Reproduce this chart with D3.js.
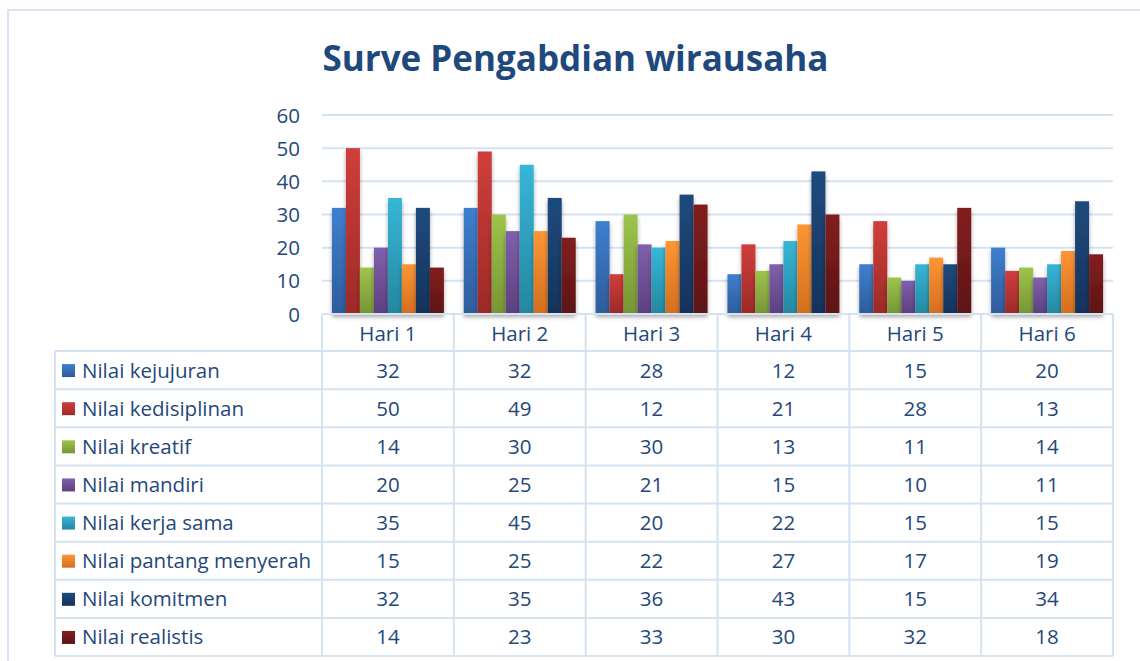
<!DOCTYPE html>
<html><head><meta charset="utf-8">
<script src="https://cdn.jsdelivr.net/npm/d3@7"></script>
<style>body{margin:0;background:#fff}svg{display:block}</style>
</head><body>
<svg id="c" width="1140" height="661"></svg>
<script>
const title = "Surve Pengabdian wirausaha";
const categories = ["Hari 1","Hari 2","Hari 3","Hari 4","Hari 5","Hari 6"];
const seriesNames = ["Nilai kejujuran","Nilai kedisiplinan","Nilai kreatif","Nilai mandiri","Nilai kerja sama","Nilai pantang menyerah","Nilai komitmen","Nilai realistis"];
const kejujuran = [32,32,28,12,15,20];
const kedisiplinan = [50,49,12,21,28,13];
const kreatif = [14,30,30,13,11,14];
const mandiri = [20,25,21,15,10,11];
const kerjaSama = [35,45,20,22,15,15];
const pantangMenyerah = [15,25,22,27,17,19];
const komitmen = [32,35,36,43,15,34];
const realistis = [14,23,33,30,32,18];
const yTicks = [0,10,20,30,40,50,60];
const colorsTop = ["#3E7FCF","#D03E3B","#9DC44C","#8060AC","#37B6D8","#FD9634","#1F4B7E","#831F1F"];
const colorsBottom = ["#2E5C9A","#9C2A28","#779535","#5C4080","#24879F","#D46E1E","#15325A","#5C1414"];

(function(){
const values = [kejujuran,kedisiplinan,kreatif,mandiri,kerjaSama,pantangMenyerah,komitmen,realistis];
const svg = d3.select("#c");
const font = "'Open Sans', sans-serif";
const fs = 20.5;
const textColor = "#24487A";
const lineColor = "#D5E2F2";

const defs = svg.append("defs");
colorsTop.forEach((c,i)=>{
  const g = defs.append("linearGradient").attr("id","g"+i).attr("x1",0).attr("y1",0).attr("x2",0).attr("y2",1);
  g.append("stop").attr("offset","0%").attr("stop-color",c);
  g.append("stop").attr("offset","100%").attr("stop-color",colorsBottom[i]);
});
const f = defs.append("filter").attr("id","sh").attr("x","-30%").attr("y","-10%").attr("width","160%").attr("height","130%");
f.append("feDropShadow").attr("dx",0).attr("dy",3).attr("stdDeviation",2).attr("flood-color","#000").attr("flood-opacity",0.35);

// frame
svg.append("path").attr("d","M8,661V10H1140").attr("fill","none").attr("stroke","#DAE4F1").attr("stroke-width",2);

const pLeft = 322, pRight = 1113, pTop = 115, base = 314;
const x0 = d3.scaleBand().domain(categories).range([pLeft,pRight]).padding(0);
const x1 = d3.scaleBand().domain(seriesNames).range([0,x0.bandwidth()]).paddingInner(0).paddingOuter(0.71);
const y = d3.scaleLinear().domain([0,60]).range([base,pTop]);
const rowY = d3.scaleBand().domain(seriesNames).range([351,656]);

// title
svg.append("text").attr("x",(pLeft+829)/2).attr("y",71).attr("text-anchor","middle")
  .attr("font-family",font).attr("font-weight","bold").attr("font-size",35).attr("fill","#1F497D").text(title);

// gridlines
svg.append("g").selectAll("line").data(yTicks.filter(t=>t>0)).join("line")
  .attr("x1",pLeft).attr("x2",pRight).attr("y1",d=>y(d)).attr("y2",d=>y(d))
  .attr("stroke",lineColor).attr("stroke-width",2);

// y axis labels
svg.append("g").selectAll("text").data(yTicks).join("text")
  .attr("x",300).attr("y",d=>y(d)+7.5).attr("text-anchor","end")
  .attr("font-family",font).attr("font-size",fs).attr("fill",textColor).text(d=>d);

// bars
const gb = svg.append("g");
categories.forEach((cat,ci)=>{
  seriesNames.forEach((s,si)=>{
    const v = values[si][ci];
    gb.append("rect").attr("x",x0(cat)+x1(s)).attr("width",x1.bandwidth())
      .attr("y",y(v)).attr("height",base-y(v)).attr("fill","url(#g"+si+")").attr("filter","url(#sh)");
  });
});

// table lines
const tl = svg.append("g").attr("stroke",lineColor).attr("stroke-width",2).attr("fill","none");
tl.append("line").attr("x1",pLeft).attr("x2",pRight).attr("y1",base).attr("y2",base);
tl.append("line").attr("x1",55).attr("x2",pRight).attr("y1",351).attr("y2",351);
tl.selectAll(".rl").data(seriesNames).join("line").attr("class","rl")
  .attr("x1",55).attr("x2",pRight).attr("y1",d=>rowY(d)+rowY.bandwidth()).attr("y2",d=>rowY(d)+rowY.bandwidth());
tl.selectAll(".vl").data(categories.concat(["end"])).join("line").attr("class","vl")
  .attr("x1",(d,i)=>pLeft+i*x0.bandwidth()).attr("x2",(d,i)=>pLeft+i*x0.bandwidth()).attr("y1",base).attr("y2",656);
tl.append("line").attr("x1",55).attr("x2",55).attr("y1",351).attr("y2",656);

// header labels
svg.append("g").selectAll("text").data(categories).join("text")
  .attr("x",d=>x0(d)+x0.bandwidth()/2).attr("y",340.5).attr("text-anchor","middle")
  .attr("font-family",font).attr("font-size",fs).attr("fill",textColor).text(d=>d);

// legend rows
const rows = svg.append("g").selectAll("g").data(seriesNames).join("g")
  .attr("transform",d=>`translate(0,${rowY(d)+rowY.bandwidth()/2})`);
rows.append("rect").attr("x",62).attr("y",-6).attr("width",13).attr("height",13).attr("fill",(d,i)=>"url(#g"+i+")");
rows.append("text").attr("x",82).attr("y",7.5).attr("font-family",font).attr("font-size",fs).attr("fill",textColor).text(d=>d);
rows.each(function(s,si){
  d3.select(this).selectAll(".v").data(values[si]).join("text").attr("class","v")
    .attr("x",(d,i)=>x0(categories[i])+x0.bandwidth()/2).attr("y",7.5).attr("text-anchor","middle")
    .attr("font-family",font).attr("font-size",fs).attr("fill",textColor).text(d=>d);
});
})();
</script>
</body></html>
